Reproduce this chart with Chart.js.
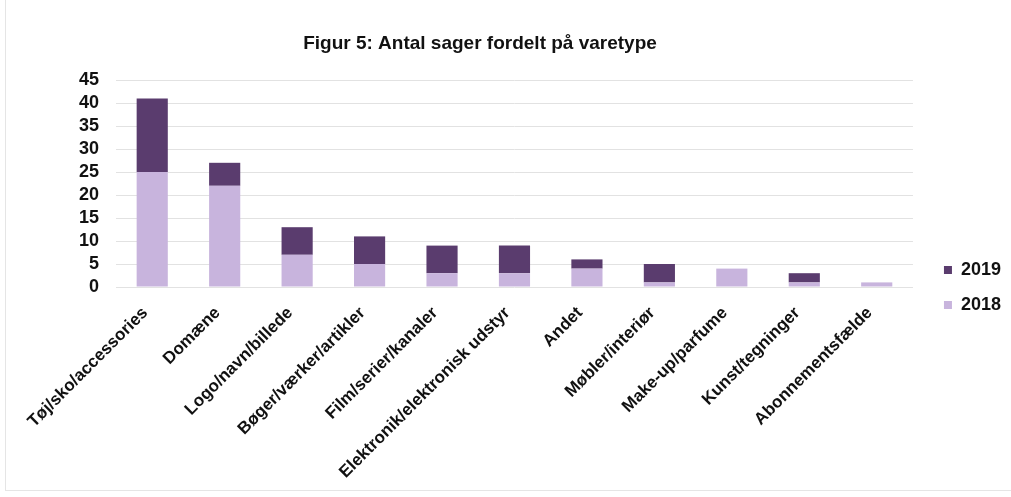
<!DOCTYPE html>
<html>
<head>
<meta charset="utf-8">
<script src="https://cdn.jsdelivr.net/npm/chart.js@4/dist/chart.umd.min.js"></script>
<style>
html,body{margin:0;padding:0;background:#fff;}
#wrap{width:1011px;height:497px;position:relative;}
</style>
</head>
<body>
<div id="wrap"><canvas id="c" width="1011" height="497"></canvas></div>
<script>
const titleText = "Figur 5: Antal sager fordelt på varetype";
const categories = ["Tøj/sko/accessories","Domæne","Logo/navn/billede","Bøger/værker/artikler","Film/serier/kanaler","Elektronik/elektronisk udstyr","Andet","Møbler/interiør","Make-up/parfume","Kunst/tegninger","Abonnementsfælde"];
const values2018 = [25, 22, 7, 5, 3, 3, 4, 1, 4, 1, 1];
const values2019 = [16, 5, 6, 6, 6, 6, 2, 4, 0, 2, 0];
const seriesNames = ["2018", "2019"];
const yMax = 45;
const yStep = 5;

const FONT = "'Liberation Sans', Arial, sans-serif";

const titlePlugin = {
  id: 'customTitle',
  beforeDraw(chart) {
    const ctx = chart.ctx;
    ctx.save();
    ctx.fillStyle = '#fff';
    ctx.fillRect(0, 0, chart.width, chart.height);
    ctx.strokeStyle = 'rgba(0,0,0,0.10)';
    ctx.lineWidth = 1;
    ctx.beginPath();
    ctx.moveTo(5.5, 0); ctx.lineTo(5.5, 490.5); ctx.lineTo(1011, 490.5);
    ctx.stroke();
    ctx.restore();
  },
  afterDraw(chart) {
    const ctx = chart.ctx;
    ctx.save();
    ctx.font = "bold 19px " + FONT;
    ctx.fillStyle = '#111';
    ctx.textAlign = 'center';
    ctx.textBaseline = 'middle';
    ctx.fillText(titleText, 480, 44);
    ctx.restore();
  }
};

new Chart(document.getElementById('c'), {
  type: 'bar',
  data: {
    labels: categories,
    datasets: [
      { label: seriesNames[0], data: values2018, backgroundColor: '#c8b4dd', barPercentage: 0.43, categoryPercentage: 1 },
      { label: seriesNames[1], data: values2019, backgroundColor: '#5a3c6e', barPercentage: 0.43, categoryPercentage: 1 }
    ]
  },
  options: {
    responsive: false,
    animation: false,
    layout: { padding: { top: 80, left: 0, right: 0, bottom: 2 } },
    plugins: {
      title: { display: false },
      tooltip: { enabled: false },
      legend: {
        position: 'right',
        reverse: true,
        labels: {
          boxWidth: 8, boxHeight: 8, padding: 17,
          color: '#111',
          font: { family: FONT, size: 18, weight: 'bold' }
        }
      }
    },
    scales: {
      x: {
        stacked: true,
        grid: { display: false, drawTicks: false },
        border: { display: false },
        ticks: {
          minRotation: 45, maxRotation: 45, autoSkip: false, padding: 16, labelOffset: -7,
          color: '#111',
          font: { family: FONT, size: 17, weight: 'bold' }
        },
        afterFit(s) { s.height = 208; }
      },
      y: {
        stacked: true,
        min: 0, max: yMax,
        grid: { color: '#e2e2e2', drawTicks: false },
        border: { display: false },
        ticks: {
          stepSize: yStep, padding: 17, autoSkip: false,
          color: '#111',
          font: { family: FONT, size: 18, weight: 'bold' }
        },
        afterFit(s) { s.width = 116; }
      },
      gap: {
        type: 'linear',
        position: 'right',
        display: true,
        grid: { display: false, drawTicks: false },
        border: { display: false },
        ticks: { display: false },
        afterFit(s) { s.width = 14; }
      }
    }
  },
  plugins: [titlePlugin]
});
</script>
</body>
</html>
